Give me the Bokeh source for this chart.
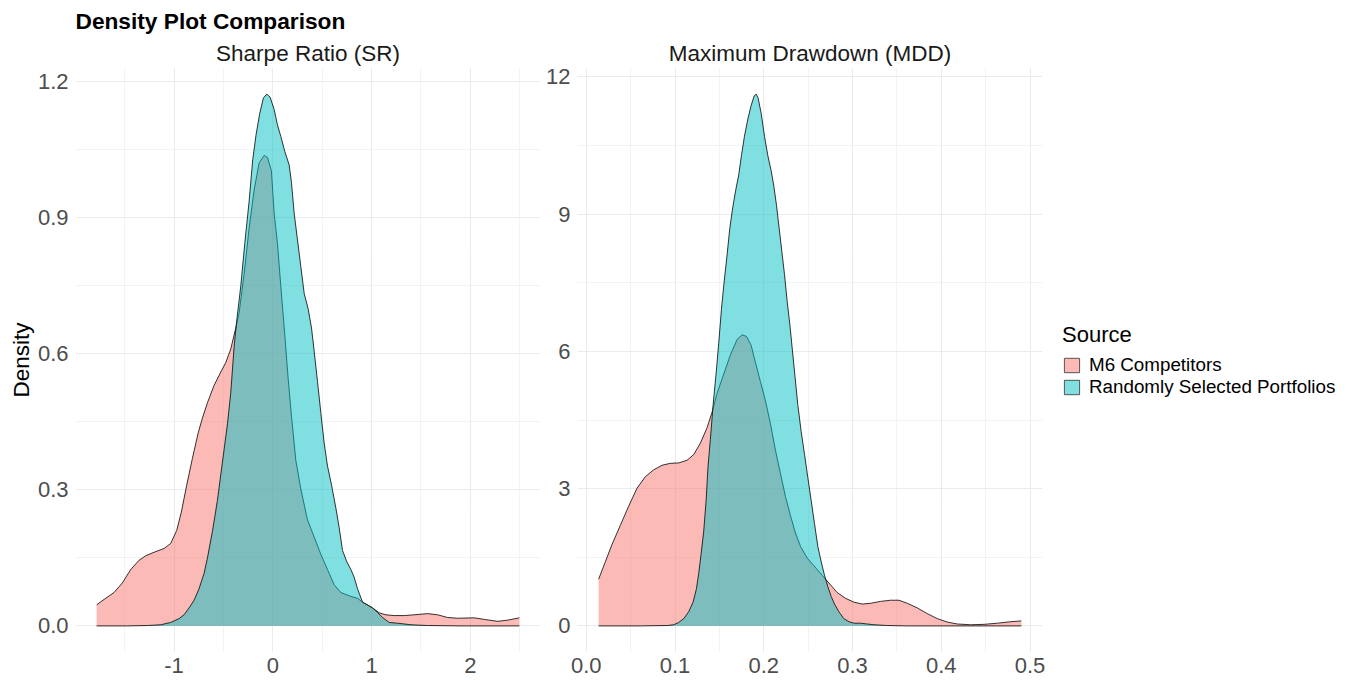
from bokeh.plotting import figure
from bokeh.models import Range1d, FixedTicker, NumeralTickFormatter, Title, Legend, LegendItem
from bokeh.layouts import row
from bokeh.embed import file_html
from bokeh.resources import INLINE

# ---------------- data ----------------
sources = ["M6 Competitors", "Randomly Selected Portfolios"]
colors = ["#F8766D", "#00BFC4"]

sr_m6_x = [-1.784, -1.709, -1.608, -1.524, -1.439, -1.355, -1.287, -1.203, -1.101, -1.034,
           -0.973, -0.926, -0.872, -0.814, -0.757, -0.713, -0.662, -0.595, -0.527, -0.476,
           -0.426, -0.375, -0.341, -0.291, -0.240, -0.189, -0.139, -0.088, -0.054, -0.014,
           0.0135, 0.047, 0.081, 0.122, 0.155, 0.189, 0.233, 0.284, 0.351, 0.419,
           0.486, 0.554, 0.622, 0.689, 0.791, 0.858, 0.926, 1.010, 1.078, 1.145,
           1.230, 1.331, 1.432, 1.568, 1.669, 1.770, 1.872, 2.041, 2.142, 2.277,
           2.378, 2.497]
sr_m6_y = [0.0465, 0.0584, 0.0736, 0.0947, 0.1243, 0.1446, 0.1548, 0.1624, 0.1708, 0.1818,
           0.2106, 0.2512, 0.3104, 0.3696, 0.4245, 0.4584, 0.4922, 0.5302, 0.5598, 0.5810,
           0.6106, 0.6571, 0.6909, 0.7755, 0.8770, 0.9615, 1.0207, 1.0376, 1.0334, 1.0038,
           0.9108, 0.8431, 0.7501, 0.6402, 0.5471, 0.4626, 0.3653, 0.3019, 0.2342, 0.1962,
           0.1581, 0.1243, 0.0905, 0.0736, 0.0651, 0.0609, 0.0499, 0.0397, 0.0288, 0.0245,
           0.0228, 0.0228, 0.0245, 0.0271, 0.0245, 0.0186, 0.0169, 0.0178, 0.0144, 0.0101,
           0.0127, 0.0178]

sr_rand_x = [-1.784, -1.473, -1.270, -1.135, -1.034, -0.949, -0.899, -0.848, -0.797, -0.747,
             -0.696, -0.662, -0.611, -0.561, -0.510, -0.459, -0.426, -0.392, -0.365, -0.324,
             -0.284, -0.240, -0.203, -0.169, -0.132, -0.095, -0.061, -0.027, 0.0135, 0.047,
             0.081, 0.122, 0.166, 0.189, 0.216, 0.250, 0.284, 0.318, 0.358, 0.392,
             0.419, 0.453, 0.486, 0.520, 0.554, 0.595, 0.639, 0.672, 0.706, 0.750,
             0.791, 0.824, 0.858, 0.909, 0.959, 1.010, 1.061, 1.111, 1.179, 1.264,
             1.399, 1.568, 1.905, 2.497]
sr_rand_y = [0.0, 0.0, 0.0008, 0.0025, 0.0076, 0.0161, 0.0245, 0.0397, 0.0567, 0.0820,
             0.1159, 0.1497, 0.2089, 0.2765, 0.3611, 0.4457, 0.5133, 0.6148, 0.6740, 0.7501,
             0.8431, 0.9362, 1.0292, 1.0841, 1.1307, 1.1645, 1.1730, 1.1662, 1.1391, 1.1053,
             1.0799, 1.0461, 1.0165, 0.9784, 0.9108, 0.8516, 0.7924, 0.7332, 0.6994, 0.6571,
             0.6063, 0.5387, 0.4710, 0.4034, 0.3526, 0.3104, 0.2596, 0.2173, 0.1666, 0.1412,
             0.1243, 0.1074, 0.0820, 0.0524, 0.0465, 0.0397, 0.0296, 0.0186, 0.0076, 0.0059,
             0.0025, 0.0008, 0.0, 0.0]

mdd_m6_x = [0.0139, 0.0214, 0.0289, 0.0383, 0.0477, 0.0571, 0.0665, 0.0759, 0.0853, 0.0947,
            0.1041, 0.1135, 0.1211, 0.1286, 0.1361, 0.1417, 0.1474, 0.1549, 0.1624, 0.1699,
            0.1756, 0.1805, 0.1857, 0.1906, 0.1962, 0.2019, 0.2075, 0.2132, 0.2188, 0.2244,
            0.2301, 0.2357, 0.2414, 0.2489, 0.2564, 0.2658, 0.2733, 0.2827, 0.2921, 0.3015,
            0.3109, 0.3203, 0.3316, 0.3429, 0.3523, 0.3617, 0.3729, 0.3842, 0.3955, 0.4068,
            0.4180, 0.4331, 0.4481, 0.4632, 0.4782, 0.4902]
mdd_m6_y = [1.022, 1.399, 1.777, 2.196, 2.615, 3.008, 3.260, 3.411, 3.511, 3.553,
            3.562, 3.620, 3.746, 3.997, 4.333, 4.668, 5.087, 5.506, 5.925, 6.260,
            6.361, 6.327, 6.134, 5.757, 5.338, 4.919, 4.416, 3.830, 3.327, 2.824,
            2.405, 2.028, 1.735, 1.483, 1.316, 1.106, 0.939, 0.729, 0.603, 0.520,
            0.478, 0.494, 0.536, 0.561, 0.561, 0.494, 0.394, 0.268, 0.159, 0.084,
            0.042, 0.025, 0.034, 0.059, 0.092, 0.109]

mdd_rand_x = [0.0139, 0.0609, 0.0910, 0.0985, 0.1041, 0.1098, 0.1154, 0.1203, 0.1241, 0.1267,
              0.1293, 0.1323, 0.1350, 0.1372, 0.1398, 0.1429, 0.1462, 0.1492, 0.1523, 0.1553,
              0.1586, 0.1617, 0.1647, 0.1680, 0.1718, 0.1748, 0.1782, 0.1820, 0.1857, 0.1891,
              0.1914, 0.1936, 0.1970, 0.2008, 0.2045, 0.2083, 0.2113, 0.2143, 0.2173, 0.2203,
              0.2233, 0.2263, 0.2293, 0.2323, 0.2353, 0.2383, 0.2421, 0.2459, 0.2496, 0.2534,
              0.2571, 0.2609, 0.2647, 0.2684, 0.2722, 0.2759, 0.2797, 0.2846, 0.2902, 0.2959,
              0.3015, 0.3090, 0.3165, 0.3241, 0.3391, 0.3617, 0.4902]
mdd_rand_y = [0.0, 0.0, 0.008, 0.025, 0.075, 0.159, 0.310, 0.520, 0.813, 1.148,
              1.567, 2.070, 2.740, 3.494, 4.081, 4.835, 5.506, 6.176, 6.930, 7.517,
              8.104, 8.690, 9.109, 9.486, 9.863, 10.282, 10.701, 11.078, 11.372, 11.581,
              11.623, 11.539, 11.204, 10.701, 10.282, 9.947, 9.612, 9.193, 8.690, 8.187,
              7.685, 7.098, 6.595, 6.009, 5.422, 4.835, 4.249, 3.746, 3.243, 2.740,
              2.238, 1.735, 1.399, 1.106, 0.855, 0.645, 0.478, 0.310, 0.159, 0.092,
              0.059, 0.059, 0.042, 0.025, 0.008, 0.0, 0.0]

sr_xticks = [-1, 0, 1, 2]
sr_xminor = [-1.5, -0.5, 0.5, 1.5, 2.5]
sr_yticks = [0.0, 0.3, 0.6, 0.9, 1.2]
sr_yminor = [0.15, 0.45, 0.75, 1.05]
mdd_xticks = [0.0, 0.1, 0.2, 0.3, 0.4, 0.5]
mdd_xminor = [0.05, 0.15, 0.25, 0.35, 0.45]
mdd_yticks = [0, 3, 6, 9, 12]
mdd_yminor = [1.5, 4.5, 7.5, 10.5]

title_text = "Density Plot Comparison"
panel_titles = ["Sharpe Ratio (SR)", "Maximum Drawdown (MDD)"]
y_label = "Density"
legend_title = "Source"

# ---------------- styling ----------------
FONT = "Liberation Sans"
FRAME_W, FRAME_H = 465, 585
TOP, BOTTOM = 67, 30
NAN = float("nan")


def expand(lo, hi, mult=0.05):
    span = hi - lo
    return lo - mult * span, hi + mult * span


def panel_title(text):
    return Title(text=text, align="center", text_font=FONT, text_font_size="22.5px",
                 text_font_style="normal", text_color="#1A1A1A", standoff=3)


def make_panel(xs, ys, xticks, xminor, yticks, yminor, xfmt, yfmt, left_border, right_border):
    xlo, xhi = expand(min(min(x) for x in xs), max(max(x) for x in xs))
    ymax = max(max(y) for y in ys)
    p = figure(frame_width=FRAME_W, frame_height=FRAME_H,
               x_range=Range1d(xlo, xhi), y_range=Range1d(-0.05 * ymax, 1.05 * ymax),
               min_border_left=left_border, min_border_right=right_border,
               min_border_top=TOP, min_border_bottom=BOTTOM,
               toolbar_location=None, output_backend="svg")
    p.outline_line_color = None
    p.background_fill_color = "white"
    p.border_fill_color = "white"

    p.xaxis.ticker = FixedTicker(ticks=xticks, minor_ticks=xminor)
    p.yaxis.ticker = FixedTicker(ticks=yticks, minor_ticks=yminor)
    p.xaxis.formatter = NumeralTickFormatter(format=xfmt)
    p.yaxis.formatter = NumeralTickFormatter(format=yfmt)
    for ax in (p.xaxis, p.yaxis):
        ax.axis_line_color = None
        ax.major_tick_line_color = None
        ax.minor_tick_line_color = None
        ax.major_tick_out = 0
        ax.major_tick_in = 0
        ax.minor_tick_out = 0
        ax.major_label_text_font = FONT
        ax.major_label_text_font_size = "22px"
        ax.major_label_text_color = "#4D4D4D"
    p.xaxis.major_label_standoff = 5
    p.yaxis.major_label_standoff = 7

    for g in (p.xgrid, p.ygrid):
        g.grid_line_color = "#EBEBEB"
        g.grid_line_width = 1.1
        g.minor_grid_line_color = "#EBEBEB"
        g.minor_grid_line_width = 0.6

    rends = []
    for x, y, c in zip(xs, ys, colors):
        p.varea(x=x, y1=0, y2=y, fill_color=c, fill_alpha=0.5)
        p.line(x=x, y=y, line_color="#111111", line_width=0.85)
        # legend key proxy (fill + outline), draws nothing in the plot
        r = p.quad(left=[NAN], right=[NAN], top=[NAN], bottom=[NAN], fill_color=c,
                   fill_alpha=0.5, line_color="#444444", line_width=0.9)
        rends.append(r)
    return p, rends


p1, _ = make_panel([sr_m6_x, sr_rand_x], [sr_m6_y, sr_rand_y], sr_xticks, sr_xminor,
                   sr_yticks, sr_yminor, "0", "0.0", 75, 2)
p2, rends = make_panel([mdd_m6_x, mdd_rand_x], [mdd_m6_y, mdd_rand_y], mdd_xticks, mdd_xminor,
                       mdd_yticks, mdd_yminor, "0.0", "0", 35, 10)

# overall title is the outermost title of the left panel; panel titles sit next to the frames
p1.title = Title(text=title_text, align="left", text_font=FONT, text_font_size="22.7px",
                 text_font_style="bold", text_color="black", standoff=8)
p1.add_layout(panel_title(panel_titles[0]), "above")
p2.title = panel_title(panel_titles[1])

p1.yaxis.axis_label = y_label
p1.yaxis.axis_label_text_font = FONT
p1.yaxis.axis_label_text_font_size = "22.5px"
p1.yaxis.axis_label_text_font_style = "normal"
p1.yaxis.axis_label_text_color = "black"
p1.yaxis.axis_label_standoff = 1

legend = Legend(items=[LegendItem(label=s, renderers=[r]) for s, r in zip(sources, rends)],
                title=legend_title, location="left")
legend.title_text_font = FONT
legend.title_text_font_size = "22px"
legend.title_text_font_style = "normal"
legend.title_text_color = "black"
legend.title_standoff = 6
legend.label_text_font = FONT
legend.label_text_font_size = "18.8px"
legend.label_text_line_height = 1.0
legend.label_text_color = "black"
legend.label_standoff = 8
legend.glyph_width = 19
legend.glyph_height = 18
legend.label_height = 19
legend.spacing = -3
legend.padding = 10
legend.margin = 20
legend.border_line_color = None
legend.background_fill_alpha = 0
p2.add_layout(legend, "right")

layout = row(p1, p2)
open("out.html", "w").write(file_html(layout, INLINE))
